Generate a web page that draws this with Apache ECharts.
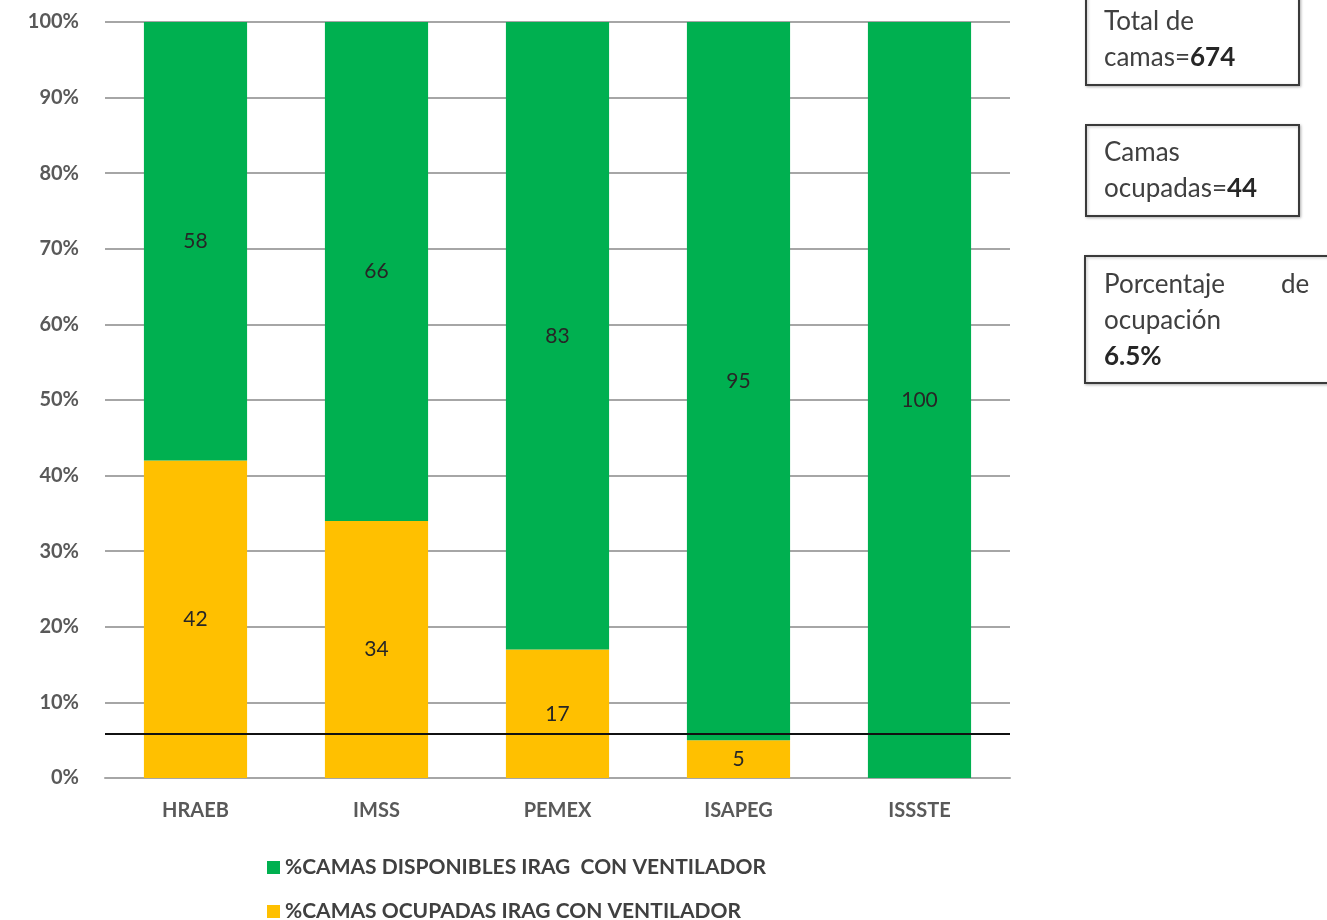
<!DOCTYPE html>
<html>
<head>
<meta charset="utf-8">
<script src="https://cdn.jsdelivr.net/npm/echarts@6/dist/echarts.min.js"></script>
<style>html,body{margin:0;padding:0;background:#fff;}#c{width:1327px;height:920px;}</style>
</head>
<body>
<div id="c"></div>
<script>
const categories = ['HRAEB', 'IMSS', 'PEMEX', 'ISAPEG', 'ISSSTE'];
const ocupadas = [42, 34, 17, 5, 0];
const disponibles = [58, 66, 83, 95, 100];
const seriesNames = ['%CAMAS DISPONIBLES IRAG  CON VENTILADOR', '%CAMAS OCUPADAS IRAG CON VENTILADOR'];
const referenceLine = 5.8;
const yTicks = [0, 10, 20, 30, 40, 50, 60, 70, 80, 90, 100];

const FONT = 'Lato';
const chart = echarts.init(document.getElementById('c'));
const labelFmt = p => (p.value ? String(p.value) : '');
const boxStyle = { fill: '#fff', stroke: '#3a3a3a', lineWidth: 2, shadowBlur: 3, shadowColor: 'rgba(0,0,0,0.25)', shadowOffsetX: 1, shadowOffsetY: 1 };
const richStyles = {
  b: { fontWeight: 'bold', fontSize: 26, fontFamily: FONT, fill: '#262626', lineHeight: 36 },
  n: { fontSize: 26, fontFamily: FONT, fill: '#404040', lineHeight: 36 }
};
const txt = (x, y, rich) => ({ type: 'text', left: x, top: y, style: { text: rich, font: '26px ' + FONT, fill: '#404040', lineHeight: 36, rich: richStyles } });
const legendBase = {
  orient: 'horizontal', left: 262, itemWidth: 13, itemHeight: 13, icon: 'rect',
  textStyle: { fontSize: 21, color: '#404040', fontWeight: 'bold', fontFamily: FONT }
};

chart.setOption({
  animation: false,
  textStyle: { fontFamily: FONT },
  grid: { left: 105, right: 317, top: 22, bottom: 142, containLabel: false },
  legend: [
    Object.assign({}, legendBase, { top: 852, data: [seriesNames[0]] }),
    Object.assign({}, legendBase, { top: 896, data: [seriesNames[1]] })
  ],
  xAxis: {
    type: 'category', data: categories,
    axisLine: { lineStyle: { color: '#a6a6a6', width: 2 } },
    axisTick: { show: false },
    axisLabel: { fontSize: 20, color: '#595959', fontWeight: 'bold', margin: 23 }
  },
  yAxis: {
    type: 'value', min: 0, max: 100, interval: 10,
    axisLine: { show: false }, axisTick: { show: false },
    axisLabel: { formatter: v => v + '%', fontSize: 20, color: '#595959', fontWeight: 'bold', margin: 26 },
    splitLine: { lineStyle: { color: '#a6a6a6', width: 2 } }
  },
  series: [
    {
      name: seriesNames[1], type: 'bar', stack: 't', data: ocupadas, barWidth: '57%',
      itemStyle: { color: '#ffc000' },
      label: { show: true, position: 'inside', formatter: labelFmt, color: '#262626', fontSize: 21 },
      markLine: {
        silent: true, symbol: 'none', label: { show: false },
        lineStyle: { color: '#111', width: 2, type: 'solid' },
        data: [{ yAxis: referenceLine }]
      }
    },
    {
      name: seriesNames[0], type: 'bar', stack: 't', data: disponibles, barWidth: '57%',
      itemStyle: { color: '#00b050' },
      label: { show: true, position: 'inside', formatter: labelFmt, color: '#262626', fontSize: 21 }
    }
  ],
  graphic: [
    { type: 'rect', shape: { x: 1086, y: -6, width: 213, height: 91 }, style: boxStyle },
    txt(1104, 4, '{n|Total de}\n{n|camas=}{b|674}'),
    { type: 'rect', shape: { x: 1086, y: 125, width: 213, height: 91 }, style: boxStyle },
    txt(1104, 135, '{n|Camas}\n{n|ocupadas=}{b|44}'),
    { type: 'rect', shape: { x: 1085, y: 256, width: 250, height: 127 }, style: boxStyle },
    txt(1104, 267, '{n|Porcentaje}\n{n|ocupación}\n{b|6.5%}'),
    txt(1281, 267, '{n|de}')
  ]
});
</script>
</body>
</html>
